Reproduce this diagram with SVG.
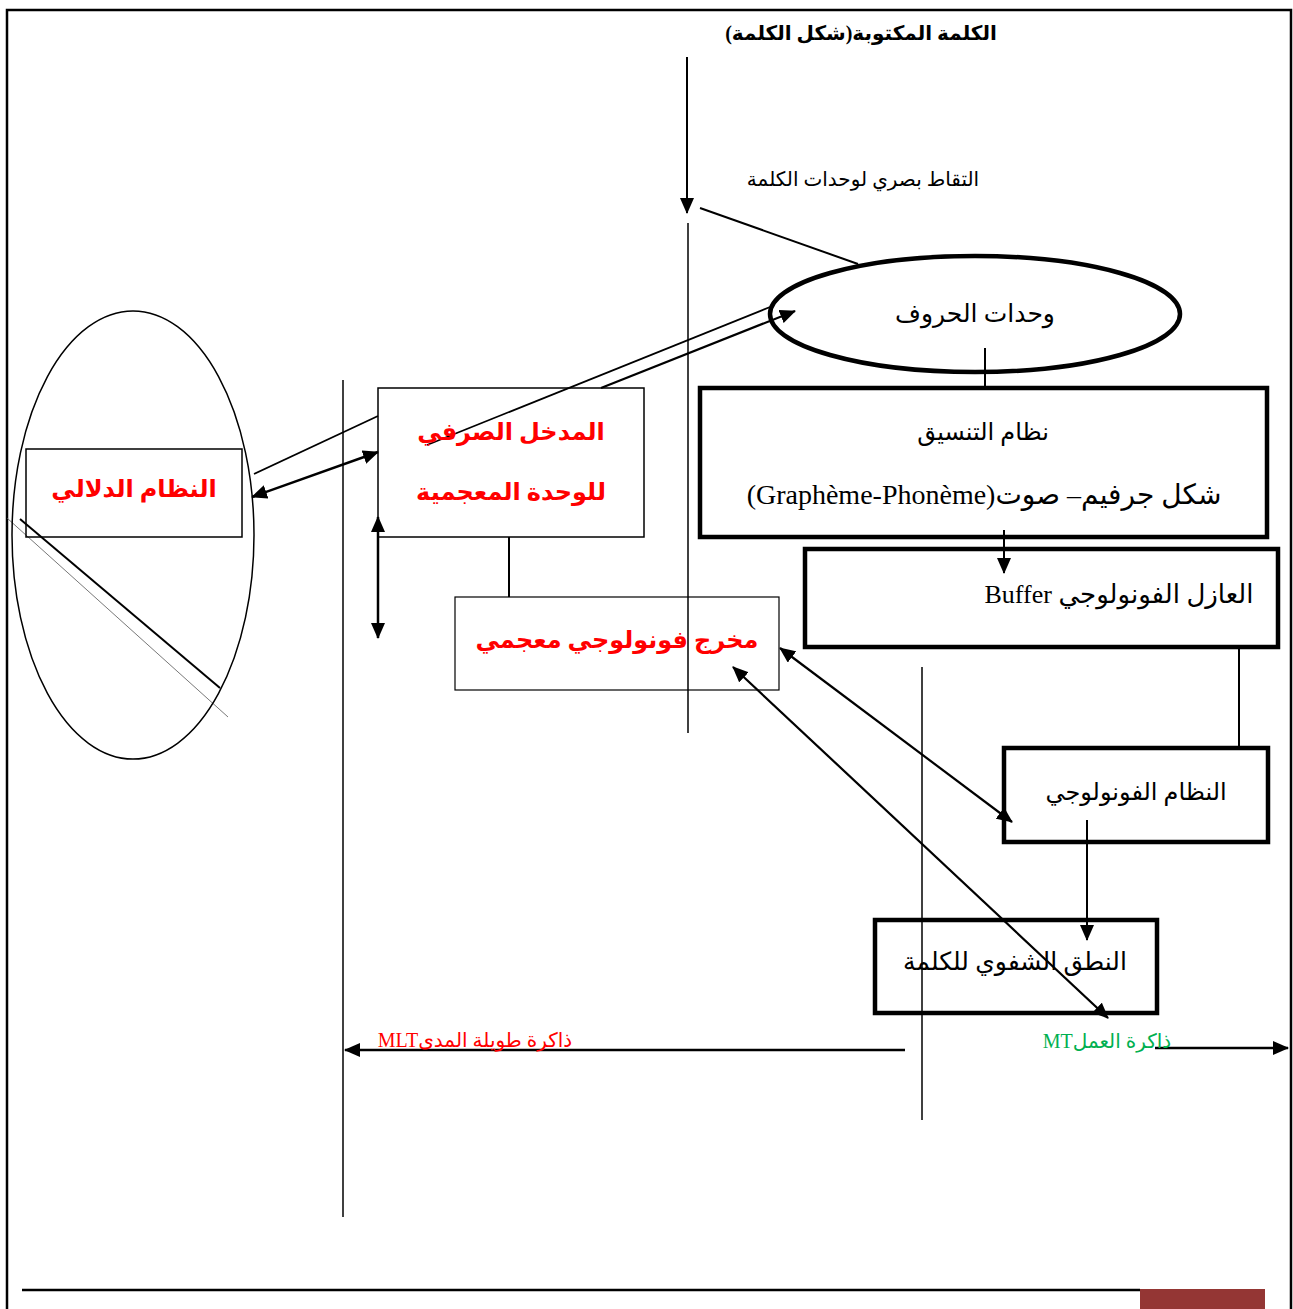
<svg xmlns="http://www.w3.org/2000/svg" width="1293" height="1309" viewBox="0 0 1293 1309">
<style>
.t{font-family:'Liberation Serif','DejaVu Sans',serif;fill:#000;text-anchor:middle;direction:rtl}
.r{fill:#ff0000;font-weight:bold}
.rn{fill:#ff0000}
.g{fill:#00b050}
.ln{stroke:#000;fill:none}
</style>
<defs>
<marker id="ah" markerUnits="userSpaceOnUse" markerWidth="16" markerHeight="14" refX="15" refY="7" orient="auto-start-reverse" viewBox="0 0 16 14">
<path d="M0,0 L16,7 L0,14 Z" fill="#000"/>
</marker>
</defs>
<rect width="1293" height="1309" fill="#fff"/>
<g id="frame">
<path d="M7,1309 V10 H1291 V1309" class="ln" stroke-width="2.5"/>
<line x1="22" y1="1290" x2="1140" y2="1290" stroke="#000" stroke-width="2.5"/>
<rect x="1140" y="1289" width="125" height="20" fill="#943634"/>
</g>
<g id="connectors">
<line x1="687" y1="57" x2="687" y2="213" class="ln" stroke-width="2" marker-end="url(#ah)"/>
<line x1="700" y1="208" x2="858" y2="264" class="ln" stroke-width="2"/>
<line x1="688" y1="223" x2="688" y2="733" class="ln" stroke-width="1.5"/>
<line x1="985" y1="348" x2="985" y2="388" class="ln" stroke-width="2"/>
<line x1="1004" y1="530" x2="1004" y2="573" class="ln" stroke-width="2" marker-end="url(#ah)"/>
<line x1="1239" y1="647" x2="1239" y2="747" class="ln" stroke-width="2"/>
<line x1="1087" y1="820" x2="1087" y2="940" class="ln" stroke-width="2" marker-end="url(#ah)"/>
<line x1="922" y1="667" x2="922" y2="1120" class="ln" stroke-width="1.5"/>
<line x1="343" y1="380" x2="343" y2="1217" class="ln" stroke-width="1.5"/>
<line x1="20" y1="519" x2="220" y2="688" class="ln" stroke-width="2"/>
<line x1="7" y1="518" x2="228" y2="717" stroke="#555" stroke-width="0.8"/>
<line x1="254" y1="474" x2="378" y2="416" class="ln" stroke-width="1.8"/>
<line x1="252" y1="497" x2="378" y2="452" class="ln" stroke-width="2.5" marker-start="url(#ah)" marker-end="url(#ah)"/>
<line x1="378" y1="517" x2="378" y2="638" class="ln" stroke-width="2.5" marker-start="url(#ah)" marker-end="url(#ah)"/>
<line x1="427" y1="445" x2="770" y2="307" class="ln" stroke-width="1.8"/>
<line x1="601" y1="388" x2="795" y2="311" class="ln" stroke-width="2.2" marker-end="url(#ah)"/>
<line x1="509" y1="537" x2="509" y2="597" class="ln" stroke-width="2"/>
<line x1="780" y1="648" x2="1012" y2="822" class="ln" stroke-width="2.2" marker-start="url(#ah)" marker-end="url(#ah)"/>
<line x1="733" y1="667" x2="1108" y2="1018" class="ln" stroke-width="2.2" marker-start="url(#ah)" marker-end="url(#ah)"/>
<line x1="905" y1="1050" x2="345" y2="1050" class="ln" stroke-width="2.5" marker-end="url(#ah)"/>
<line x1="1155" y1="1048" x2="1288" y2="1048" class="ln" stroke-width="2.5" marker-end="url(#ah)"/>
</g>
<g id="title">
<text class="t" x="861" y="40" font-size="20" font-weight="bold">الكلمة المكتوبة(شكل الكلمة)</text>
</g>
<g id="capture-label">
<text class="t" x="863" y="186" font-size="20">التقاط بصري لوحدات الكلمة</text>
</g>
<g id="letters">
<ellipse cx="975" cy="314" rx="205" ry="58" class="ln" stroke-width="4.5" fill="#fff"/>
<text class="t" x="975" y="322" font-size="25">وحدات الحروف</text>
</g>
<g id="coord">
<rect x="700" y="388" width="567" height="149" class="ln" stroke-width="4.5"/>
<text class="t" x="983" y="440" font-size="24">نظام التنسيق</text>
<text class="t" x="984" y="504" font-size="28">شكل جرفيم– صوت(Graphème-Phonème)</text>
</g>
<g id="buffer">
<rect x="805" y="549" width="473" height="98" class="ln" stroke-width="4.5" fill="#fff"/>
<text class="t" x="1119" y="603" font-size="26">العازل الفونولوجي Buffer</text>
</g>
<g id="phon">
<rect x="1004" y="748" width="264" height="94" class="ln" stroke-width="4.5"/>
<text class="t" x="1136" y="800" font-size="24">النظام الفونولوجي</text>
</g>
<g id="speech">
<rect x="875" y="920" width="282" height="93" class="ln" stroke-width="4.5"/>
<text class="t" x="1015" y="970" font-size="25">النطق الشفوي للكلمة</text>
</g>
<g id="semantic">
<ellipse cx="133" cy="535" rx="121" ry="224" class="ln" stroke-width="1.5"/>
<rect x="26" y="449" width="216" height="88" class="ln" stroke-width="1.5"/>
<text class="t r" x="134" y="497" font-size="24">النظام الدلالي</text>
</g>
<g id="morph">
<rect x="378" y="388" width="266" height="149" class="ln" stroke-width="1.5"/>
<text class="t r" x="511" y="440" font-size="24">المدخل الصرفي</text>
<text class="t r" x="511" y="500" font-size="24">للوحدة المعجمية</text>
</g>
<g id="lexout">
<rect x="455" y="597" width="324" height="93" class="ln" stroke="#444" stroke-width="1.2"/>
<text class="t r" x="617" y="648" font-size="24">مخرج فونولوجي معجمي</text>
</g>
<g id="mlt">
<text class="t rn" x="475" y="1047" font-size="20">ذاكرة طويلة المدىMLT</text>
</g>
<g id="mt">
<text class="t g" x="1107" y="1048" font-size="20">ذاكرة العملMT</text>
</g>
</svg>
